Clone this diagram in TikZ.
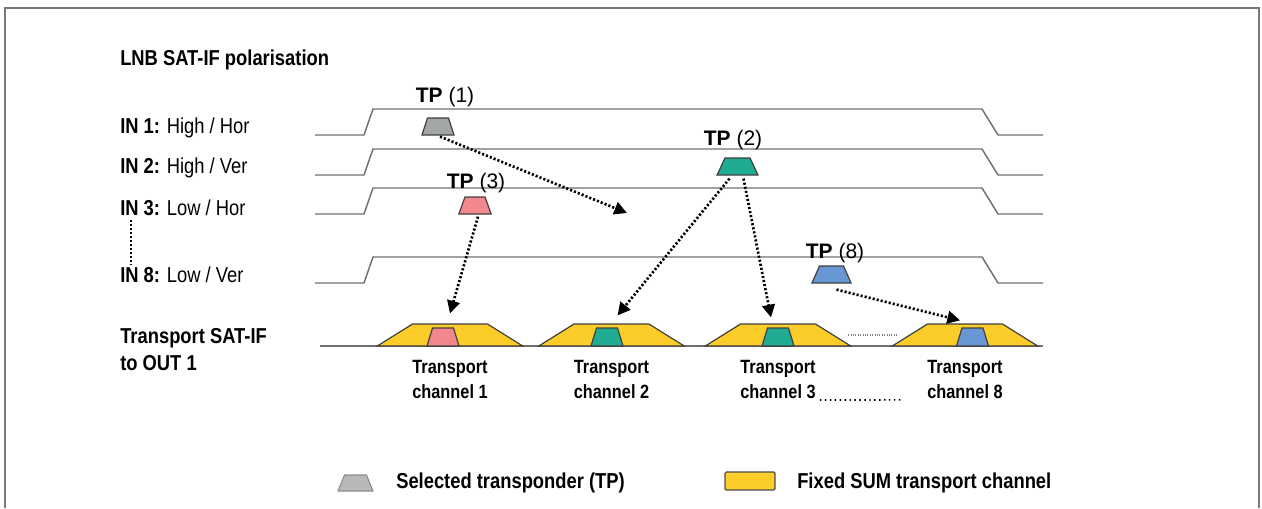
\documentclass[tikz,border=0pt]{standalone}
\usepackage{fontspec}
\setmainfont[FakeStretch=0.85]{Liberation Sans}
\newfontfamily\tpfont{Liberation Sans}
\usetikzlibrary{positioning,shapes.geometric,arrows.meta,calc}

\definecolor{tpgray}{RGB}{162,166,166}
\definecolor{tpteal}{RGB}{32,172,146}
\definecolor{tppink}{RGB}{242,136,142}
\definecolor{tpblue}{RGB}{104,152,212}
\definecolor{sumyellow}{RGB}{252,204,40}
\definecolor{bandgray}{RGB}{112,112,112}
\definecolor{framegray}{RGB}{120,120,120}

\begin{document}
\begin{tikzpicture}[x=0.75pt,y=-0.75pt,
  lbl/.style={inner sep=0pt,anchor=west,align=left,font=\fontsize{16.2pt}{20.25pt}\selectfont},
  chlabel/.style={inner sep=0pt,align=center,font=\bfseries\fontsize{14.4pt}{18.75pt}\selectfont},
  tplabel/.style={inner sep=0pt,font=\tpfont\fontsize{15.75pt}{18pt}\selectfont},
  band/.style={draw=bandgray,line width=1.1pt},
  tp/.style={trapezium,draw=black!75,line width=0.9pt,inner ysep=6.375pt},
  sumch/.style={trapezium,trapezium angle=32,fill=sumyellow,draw=black!75,line width=0.9pt,inner xsep=28.125pt,inner ysep=8.25pt},
  chtp/.style={tp,inner xsep=7.875pt,inner ysep=6.75pt,trapezium angle=73},
  flow/.style={line width=2pt,dash pattern=on 1.6pt off 1.5pt,-{Triangle[length=9.5pt,width=9.5pt]}},
  finedots/.style={line width=1pt,dash pattern=on 1pt off 2pt}
]
\useasboundingbox (0,0) rectangle (1262,508);
\draw[framegray,line width=1.5pt] (5,508) -- (5,8) -- (1259,8) -- (1259,508);

% input polarisations
\foreach \y in {135,175,214,283}
  \draw[band] (315,\y) -- (364,\y) -- (373,\y-26) -- (982,\y-26) -- (998,\y) -- (1043,\y);

\node[lbl] (title) at (120,60) {\textbf{LNB SAT-IF polarisation}};
\node[lbl] (in1) at (120,128) {\textbf{IN 1:} High / Hor};
\node[lbl] (in2) [below=30pt of in1.west,anchor=west] {\textbf{IN 2:} High / Ver};
\node[lbl] (in3) [below=30pt of in2.west,anchor=west] {\textbf{IN 3:} Low / Hor};
\node[lbl] (in8) [below=50pt of in3.west,anchor=west] {\textbf{IN 8:} Low / Ver};
\draw[finedots] ($(in3.south west)+(11,4)$) -- ($(in8.north west)+(11,-2)$);

\node[tp,fill=tpgray,inner xsep=7.875pt,trapezium angle=72] (tp1) at (438,126.5) {};
\node[tp,fill=tpteal,inner xsep=9.375pt,trapezium angle=65] (tp2) at (737.5,166.5) {};
\node[tp,fill=tppink,inner xsep=7.5pt,trapezium angle=70] (tp3) at (475,205.5) {};
\node[tp,fill=tpblue,inner xsep=9pt,trapezium angle=66] (tp8) at (831.5,274.5) {};
\node[tplabel] (tplab1) at (445,97) {\textbf{TP} (1)};
\node[tplabel] (tplab2) at (733,140) {\textbf{TP} (2)};
\node[tplabel] (tplab3) at (476,183) {\textbf{TP} (3)};
\node[tplabel] (tplab8) at (835,253) {\textbf{TP} (8)};

% transport output
\node[lbl] (out) at (120,349.5) {\textbf{Transport SAT-IF}\\\textbf{to OUT 1}};
\draw[band] (320,346) -- (1043,346);
\node[sumch] (ch1) at (450,335) {};
\node[sumch] (ch2) at (611.5,335) {};
\node[sumch] (ch3) at (778,335) {};
\node[sumch] (ch8) at (965,335) {};
\node[chtp,fill=tppink] (in1tp) at (443,337) {};
\node[chtp,fill=tpteal] (in2tp) at (607,337) {};
\node[chtp,fill=tpteal] (in3tp) at (778,337) {};
\node[chtp,fill=tpblue] (in8tp) at (972.5,337) {};
\draw[gray,line width=0.9pt,dash pattern=on 0.6pt off 1.2pt] ($(ch3.east)+(14,0)$) -- ($(ch8.west)+(-12,0)$);

\node[chlabel] (lab1) [below=10pt of ch1] {Transport\\channel 1};
\node[chlabel] (lab2) [below=10pt of ch2] {Transport\\channel 2};
\node[chlabel] (lab3) [below=10pt of ch3] {Transport\\channel 3};
\node[chlabel] (lab8) [below=10pt of ch8] {Transport\\channel 8};
\draw[line width=1.3pt,dash pattern=on 1.1pt off 2.6pt] ($(lab3.south east)+(4,1)$) -- ($(lab8.south west)+(-24,1)$);

% transponder routing
\coordinate (hit) at (627,213);
\draw[flow] ($(tp1.south)+(2,1)$) -- (hit);
\draw[flow] ($(tp3.south)+(3,2)$) -- ($(ch1.north)+(0,-10)$);
\draw[flow] ($(tp2.south)+(-8,3)$) -- ($(ch2.north)+(6,-8)$);
\draw[flow] ($(tp2.south)+(6,3)$) -- ($(ch3.north)+(-7,-6)$);
\draw[flow] ($(tp8.south)+(5,6)$) -- ($(ch8.north)+(-5,-3)$);

% legend
\node[trapezium,trapezium angle=68,fill=black!28,draw=black!45,line width=0.8pt,inner xsep=8.25pt,inner ysep=6pt] (keytp) at (355.5,483) {};
\node[lbl] (keytptext) at (396,483) {\textbf{Selected transponder (TP)}};
\node[draw=black!70,fill=sumyellow,line width=0.9pt,rounded corners=1pt,inner sep=0pt,minimum width=37.5pt,minimum height=13.5pt] (keysum) at (750,481) {};
\node[lbl] (keysumtext) at (797,483) {\textbf{Fixed SUM transport channel}};
\end{tikzpicture}
\end{document}
